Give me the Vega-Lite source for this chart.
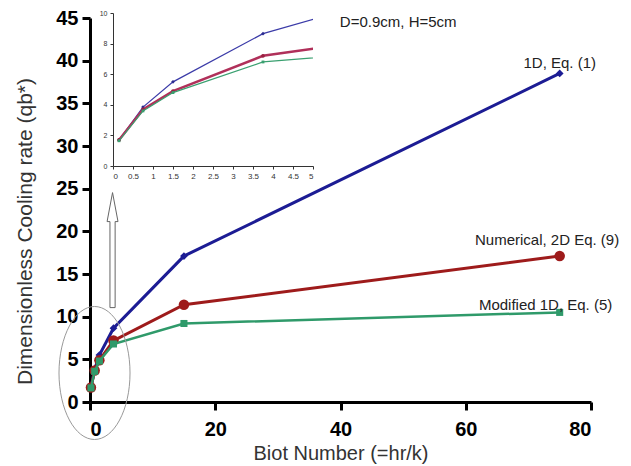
{
  "$schema": "https://vega.github.io/schema/vega-lite/v6.json",
  "autosize": {"type": "none"},
  "padding": {"left": 113, "top": 13, "right": 318, "bottom": 300},
  "background": "white",
  "width": 200,
  "height": 153,
  "config": {"view": {"stroke": null}, "font": "Liberation Sans"},
  "datasets": {
    "series": [
      {"Bi": 0.15, "q": 1.7, "model": "1D"},
      {"Bi": 0.75, "q": 3.85, "model": "1D"},
      {"Bi": 1.5, "q": 5.5, "model": "1D"},
      {"Bi": 3.75, "q": 8.65, "model": "1D"},
      {"Bi": 15, "q": 17.1, "model": "1D"},
      {"Bi": 75, "q": 38.5, "model": "1D"},
      {"Bi": 0.15, "q": 1.7, "model": "2D"},
      {"Bi": 0.75, "q": 3.7, "model": "2D"},
      {"Bi": 1.5, "q": 4.9, "model": "2D"},
      {"Bi": 3.75, "q": 7.2, "model": "2D"},
      {"Bi": 15, "q": 11.4, "model": "2D"},
      {"Bi": 75, "q": 17.1, "model": "2D"},
      {"Bi": 0.15, "q": 1.65, "model": "Mod"},
      {"Bi": 0.75, "q": 3.6, "model": "Mod"},
      {"Bi": 1.5, "q": 4.8, "model": "Mod"},
      {"Bi": 3.75, "q": 6.8, "model": "Mod"},
      {"Bi": 15, "q": 9.2, "model": "Mod"},
      {"Bi": 75, "q": 10.5, "model": "Mod"}
    ],
    "labels": [
      {"Bi": 80.8, "q": 39.7, "label": "1D, Eq. (1)"},
      {"Bi": 84.5, "q": 19.0, "label": "Numerical, 2D Eq. (9)"},
      {"Bi": 83.4, "q": 11.4, "label": "Modified 1D, Eq. (5)"}
    ],
    "note": [{"Bi": 39.9, "q": 44.5, "label": "D=0.9cm, H=5cm"}],
    "ellipse": [{"Bi": 0.72, "q": 3.4}],
    "arrow": [{"Bi": 3.6, "q": 17.8}]
  },
  "layer": [
    {
      "data": {"name": "series"},
      "encoding": {
        "x": {"field": "Bi", "type": "quantitative", "scale": {"domain": [0, 5], "nice": false},
          "axis": {"orient": "bottom", "title": null, "grid": false, "values": [0, 0.5, 1, 1.5, 2, 2.5, 3, 3.5, 4, 4.5, 5], "format": "~g",
            "labelFontSize": 8, "labelColor": "#333", "tickSize": 3, "tickColor": "#333", "domainColor": "#333", "labelPadding": 3}},
        "y": {"field": "q", "type": "quantitative", "scale": {"domain": [0, 10], "nice": false},
          "axis": {"orient": "left", "title": null, "grid": false, "values": [0, 2, 4, 6, 8, 10],
            "labelFontSize": 7, "labelColor": "#333", "tickSize": 3, "tickColor": "#333", "domainColor": "#333", "labelPadding": 3}}
      },
      "layer": [
        {"transform": [{"filter": "datum.model == '1D'"}],
          "mark": {"type": "line", "clip": true, "color": "#3b3ba8", "strokeWidth": 1.2,
            "point": {"shape": "diamond", "size": 14, "filled": true, "color": "#2a2a90", "clip": true}}},
        {"transform": [{"filter": "datum.model == '2D'"}],
          "mark": {"type": "line", "clip": true, "color": "#b0305a", "strokeWidth": 2.5,
            "point": {"shape": "circle", "size": 14, "filled": true, "color": "#9a2040", "clip": true}}},
        {"transform": [{"filter": "datum.model == 'Mod'"}],
          "mark": {"type": "line", "clip": true, "color": "#3aa070", "strokeWidth": 1.2,
            "point": {"shape": "square", "size": 8, "filled": true, "color": "#3aa070", "clip": true}}}
      ]
    },
    {
      "encoding": {
        "x": {"field": "Bi", "type": "quantitative", "scale": {"domain": [0, 80], "nice": false, "range": [-23, 478]},
          "axis": {"orient": "bottom", "offset": 236, "title": "Biot Number (=hr/k)", "values": [0, 20, 40, 60, 80], "grid": false,
            "labelFontSize": 20, "labelFontWeight": "bold", "labelColor": "black", "labelPadding": 9,
            "tickSize": 8, "tickWidth": 3, "tickColor": "black", "domainWidth": 3, "domainColor": "black",
            "titleFontSize": 20, "titleFontWeight": "normal", "titleColor": "#333", "titlePadding": 4}},
        "y": {"field": "q", "type": "quantitative", "scale": {"domain": [0, 45], "nice": false, "range": [389, 5]},
          "axis": {"orient": "left", "offset": 23, "title": "Dimensionless Cooling rate (qb*)", "values": [0, 5, 10, 15, 20, 25, 30, 35, 40, 45], "grid": false,
            "labelFontSize": 20, "labelFontWeight": "bold", "labelColor": "black", "labelPadding": 4,
            "tickSize": 8, "tickWidth": 3, "tickColor": "black", "domainWidth": 3, "domainColor": "black",
            "titleFontSize": 21, "titleFontWeight": "normal", "titleColor": "#333", "titlePadding": 20, "titleY": 218}}
      },
      "layer": [
        {"data": {"name": "series"}, "transform": [{"filter": "datum.model == '1D'"}],
          "mark": {"type": "line", "color": "#1c1c94", "strokeWidth": 3,
            "point": {"shape": "diamond", "size": 60, "filled": true, "color": "#1c1c94"}}},
        {"data": {"name": "series"}, "transform": [{"filter": "datum.model == '2D'"}],
          "mark": {"type": "line", "color": "#9e1b1b", "strokeWidth": 3,
            "point": {"shape": "circle", "size": 110, "filled": true, "color": "#9e1b1b"}}},
        {"data": {"name": "series"}, "transform": [{"filter": "datum.model == 'Mod'"}],
          "mark": {"type": "line", "color": "#2f9a6a", "strokeWidth": 2.5,
            "point": {"shape": "square", "size": 50, "filled": true, "color": "#2f9a6a"}}},
        {"data": {"name": "ellipse"},
          "mark": {"type": "point", "filled": false, "color": "#999", "strokeWidth": 1, "opacity": 1, "size": 17689,
            "shape": "M 0 -1 C 0.295 -1 0.534 -0.552 0.534 0 C 0.534 0.552 0.295 1 0 1 C -0.295 1 -0.534 0.552 -0.534 0 C -0.534 -0.552 -0.295 -1 0 -1 Z"}},
        {"data": {"name": "arrow"},
          "mark": {"type": "point", "filled": true, "fill": "white", "stroke": "#666", "strokeWidth": 1, "opacity": 1, "size": 13225,
            "shape": "M 0 -1 L 0.095 -0.496 L 0.045 -0.496 L 0.045 1 L -0.045 1 L -0.045 -0.496 L -0.095 -0.496 Z"}},
        {"data": {"name": "labels"},
          "mark": {"type": "text", "align": "right", "baseline": "middle", "fontSize": 15, "color": "#222"},
          "encoding": {"text": {"field": "label"}}},
        {"data": {"name": "note"},
          "mark": {"type": "text", "align": "left", "baseline": "middle", "fontSize": 15, "color": "#222"},
          "encoding": {"text": {"field": "label"}}}
      ]
    }
  ],
  "resolve": {"scale": {"x": "independent", "y": "independent"}, "axis": {"x": "independent", "y": "independent"}}
}
